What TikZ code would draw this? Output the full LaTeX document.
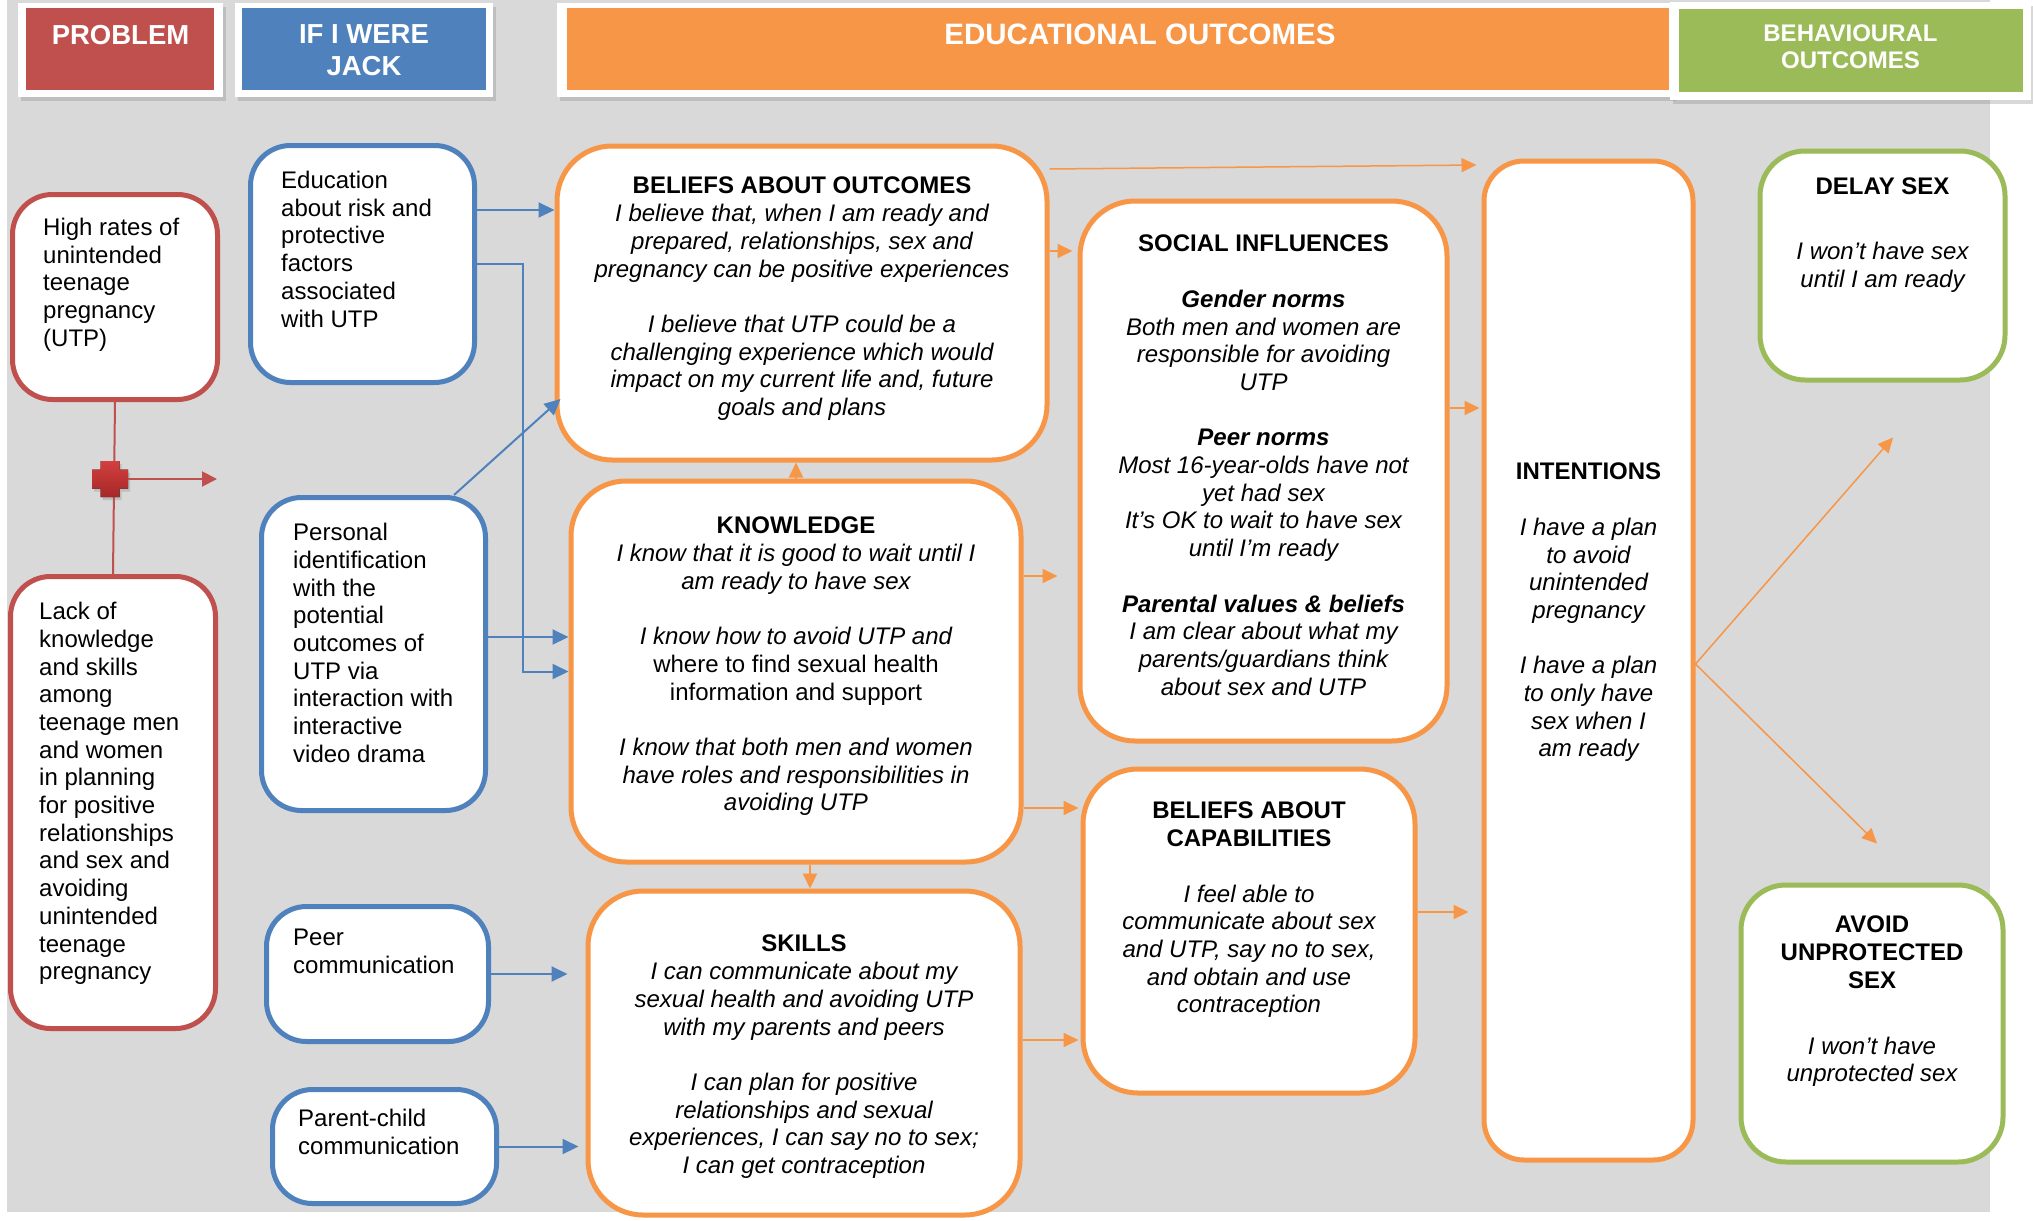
\documentclass[tikz,border=0pt]{standalone}
\usepackage{fontspec}
\setmainfont{Liberation Sans}
\usepackage{xcolor}
\usepackage{tikz}
\usetikzlibrary{arrows.meta, positioning, shadows}

\definecolor{probred}{HTML}{C0504D}
\definecolor{jackblue}{HTML}{4F81BD}
\definecolor{outorange}{HTML}{F79646}
\definecolor{behgreen}{HTML}{9BBB59}
\definecolor{bggray}{HTML}{D9D9D9}
\definecolor{crosstop}{HTML}{D43F3F}
\definecolor{crossbot}{HTML}{A52828}

\newcommand{\bodysize}{\fontsize{24}{27.7}\selectfont}
\newcommand{\headsize}{\fontsize{27.5}{32}\selectfont}
\newcommand{\edusize}{\fontsize{29.5}{32}\selectfont}
\newcommand{\behsize}{\fontsize{24}{27}\selectfont}

\tikzstyle{problem} = [rectangle, rounded corners=40pt, draw=probred, line width=5pt, fill=white]
\tikzstyle{jack} = [rectangle, rounded corners=40pt, draw=jackblue, line width=5pt, fill=white]
\tikzstyle{outcome} = [rectangle, rounded corners=55pt, draw=outorange, line width=5pt, fill=white]
\tikzstyle{behaviour} = [rectangle, rounded corners=45pt, draw=behgreen, line width=5pt, fill=white]
\tikzstyle{headframe} = [rectangle, fill=white, drop shadow={shadow xshift=3pt, shadow yshift=-4pt, opacity=0.3}]
\tikzstyle{header} = [rectangle, inner sep=0pt]
\tikzstyle{headtext} = [inner sep=0pt, align=center, text=white, font=\headsize\bfseries]
\tikzstyle{lefttext} = [inner sep=0pt, align=left, font=\bodysize]
\tikzstyle{midtext} = [inner sep=0pt, align=center, font=\bodysize\itshape]
\tikzstyle{bluearrow} = [draw=jackblue, line width=2pt, -{Triangle[length=16pt,width=15pt]}]
\tikzstyle{orangearrow} = [draw=outorange, line width=2pt, -{Triangle[length=15pt,width=14pt]}]
\tikzstyle{redline} = [draw=probred, line width=2pt]
\tikzstyle{redarrow} = [redline, -{Triangle[length=15pt,width=15pt]}]

\begin{document}
\begin{tikzpicture}[x=1pt, y=-1pt]
\fill[white] (0,0) rectangle (2033,1220);
\useasboundingbox (0,0) rectangle (2033,1220);
\fill[bggray] (6.5,0) rectangle (1990,1212);

\node[headframe, minimum width=205pt, minimum height=94pt] (fprob) at (120.5,50) {};
\node[header, fill=probred, minimum width=188pt, minimum height=82pt] (hprob) at (120,49) {};
\node[headtext, below=22pt of fprob.north] (tprob) {PROBLEM};
\node[headframe, minimum width=258pt, minimum height=94pt] (fjack) at (364,50) {};
\node[header, fill=jackblue, minimum width=244pt, minimum height=82pt] (hjack) at (364,49) {};
\node[headtext, below=22pt of fjack.north] (tjack) {IF I WERE\\JACK};
\node[headframe, minimum width=1116pt, minimum height=94pt] (fedu) at (1115,50) {};
\node[header, fill=outorange, minimum width=1102pt, minimum height=82pt] (hedu) at (1118,49) {};
\node[headtext, font=\edusize\bfseries, below=21pt of fedu.north, xshift=25pt] (tedu) {EDUCATIONAL OUTCOMES};
\node[headframe, minimum width=361pt, minimum height=98pt] (fbeh) at (1850.5,51) {};
\node[header, fill=behgreen, minimum width=344pt, minimum height=83pt] (hbeh) at (1851,50.5) {};
\node[headtext, font=\behsize\bfseries, below=23pt of fbeh.north] (tbeh) {BEHAVIOURAL\\OUTCOMES};

\node[problem, minimum width=205pt, minimum height=205pt] (high) at (115,297) {};
\node[problem, minimum width=205pt, minimum height=452pt] (lack) at (113,802.5) {};
\node[jack, minimum width=224pt, minimum height=237pt] (edu) at (362.5,264) {};
\node[jack, minimum width=224pt, minimum height=313pt] (ident) at (373.5,654) {};
\node[jack, minimum width=222pt, minimum height=135pt] (peer) at (377.5,974) {};
\node[jack, minimum width=224pt, minimum height=114pt] (parent) at (384.5,1146.5) {};
\node[outcome, minimum width=490pt, minimum height=314pt] (belout) at (802,303) {};
\node[outcome, minimum width=450pt, minimum height=381pt] (know) at (796,671.5) {};
\node[outcome, minimum width=432pt, minimum height=324pt] (skills) at (804,1053) {};
\node[outcome, minimum width=367pt, minimum height=540pt] (social) at (1263.5,471) {};
\node[outcome, minimum width=332pt, minimum height=324pt] (belcap) at (1249,931) {};
\node[outcome, rounded corners=40pt, minimum width=209pt, minimum height=999pt] (intent) at (1588.5,660.5) {};
\node[behaviour, minimum width=245pt, minimum height=229pt] (delay) at (1882.5,265.5) {};
\node[behaviour, minimum width=262pt, minimum height=277pt] (avoid) at (1872,1023.5) {};

\node[lefttext, below right=26pt and 33pt of high.north west] (hightext) {High rates of\\unintended\\teenage\\pregnancy\\(UTP)};
\node[lefttext, below right=28pt and 31pt of lack.north west] (lacktext) {Lack of\\knowledge\\and skills\\among\\teenage men\\and women\\in planning\\for positive\\relationships\\and sex and\\avoiding\\unintended\\teenage\\pregnancy};
\node[lefttext, below right=28pt and 33pt of edu.north west] (edutext) {Education\\about risk and\\protective\\factors\\associated\\with UTP};
\node[lefttext, below right=28pt and 34pt of ident.north west] (identtext) {Personal\\identification\\with the\\potential\\outcomes of\\UTP via\\interaction with\\interactive\\video drama};
\node[lefttext, below right=25pt and 29pt of peer.north west] (peertext) {Peer\\communication};
\node[lefttext, below right=22pt and 28pt of parent.north west] (parenttext) {Parent-child\\communication};

\node[midtext, below=33.5pt of belout.north] (belouttext) {{\upshape\bfseries BELIEFS ABOUT OUTCOMES}\\I believe that, when I am ready and\\prepared, relationships, sex and\\pregnancy can be positive experiences\\[27.7pt]I believe that UTP could be a\\challenging experience which would\\impact on my current life and, future\\goals and plans};
\node[midtext, below=38.5pt of know.north] (knowtext) {{\upshape\bfseries KNOWLEDGE}\\I know that it is good to wait until I\\am ready to have sex\\[27.7pt]I know how to avoid UTP and\\{\upshape where to find sexual health}\\{\upshape information and support}\\[27.7pt]I know that both men and women\\have roles and responsibilities in\\avoiding UTP};
\node[midtext, below=46.5pt of skills.north] (skillstext) {{\upshape\bfseries SKILLS}\\I can communicate about my\\sexual health and avoiding UTP\\with my parents and peers\\[27.7pt]I can plan for positive\\relationships and sexual\\experiences, I can say no to sex;\\I can get contraception};
\node[midtext, below=36.5pt of social.north] (socialtext) {{\upshape\bfseries SOCIAL INFLUENCES}\\[27.7pt]{\bfseries Gender norms}\\Both men and women are\\responsible for avoiding\\UTP\\[27.7pt]{\bfseries Peer norms}\\Most 16-year-olds have not\\yet had sex\\It’s OK to wait to have sex\\until I’m ready\\[27.7pt]{\bfseries Parental values \& beliefs}\\I am clear about what my\\parents/guardians think\\about sex and UTP};
\node[midtext, below=35.5pt of belcap.north] (belcaptext) {{\upshape\bfseries BELIEFS ABOUT}\\{\upshape\bfseries CAPABILITIES}\\[27.7pt]I feel able to\\communicate about sex\\and UTP, say no to sex,\\and obtain and use\\contraception};
\node[midtext, below=304.5pt of intent.north] (intenttext) {{\upshape\bfseries INTENTIONS}\\[27.7pt]I have a plan\\to avoid\\unintended\\pregnancy\\[27.7pt]I have a plan\\to only have\\sex when I\\am ready};
\node[midtext, below=29.5pt of delay.north] (delaytext) {{\upshape\bfseries DELAY SEX}\\[37pt]I won’t have sex\\until I am ready};
\node[midtext, below=33.5pt of avoid.north] (avoidtext) {{\upshape\bfseries AVOID}\\{\upshape\bfseries UNPROTECTED}\\{\upshape\bfseries SEX}\\[38pt]I won’t have\\unprotected sex};

\coordinate (plus) at (110,479);
\coordinate (redtip) at (217,479);
\draw[redline] (high.south) -- (lack.north);
\begin{scope}[shift={(plus)}]
\fill[top color=crosstop, bottom color=crossbot, drop shadow={shadow xshift=2pt, shadow yshift=-3pt, opacity=0.3}]
  (-9.5,-18) -- (9.5,-18) -- (9.5,-9.5) -- (18,-9.5) -- (18,9.5) -- (9.5,9.5) -- (9.5,18)
  -- (-9.5,18) -- (-9.5,9.5) -- (-18,9.5) -- (-18,-9.5) -- (-9.5,-9.5) -- cycle;
\end{scope}
\draw[redarrow] ([xshift=18pt]plus) -- (redtip);

\draw[bluearrow] ([yshift=54pt]edu.east) -- ([yshift=93pt]belout.west);
\draw[bluearrow] (edu.east) -| ([xshift=-46pt]know.west) -- (know.west);
\draw[bluearrow] ([xshift=80.5pt]ident.north) -- ([xshift=6pt,yshift=-96pt]belout.west);
\draw[bluearrow] ([yshift=17pt]ident.east) -- ([yshift=34.5pt]know.west);
\draw[bluearrow] (peer.east) -- ([xshift=-18pt,yshift=79pt]skills.west);
\draw[bluearrow] (parent.east) -- ([xshift=-7pt,yshift=-93.5pt]skills.west);

\draw[orangearrow, line width=1.5pt] ([yshift=134pt]belout.east) -- ([xshift=-5pt,yshift=495.5pt]intent.west);
\draw[orangearrow] ([yshift=52pt]belout.east) -- ([xshift=-5pt,yshift=220pt]social.west);
\draw[orangearrow] (know.north) -- ([xshift=-6pt]belout.south);
\draw[orangearrow] ([xshift=14pt]know.south) -- ([xshift=6pt]skills.north);
\draw[orangearrow] ([yshift=95.5pt]know.east) -- ([xshift=-20pt,yshift=-105pt]social.west);
\draw[orangearrow] ([yshift=-136.5pt]know.east) -- ([xshift=-2pt,yshift=123pt]belcap.west);
\draw[orangearrow] ([yshift=13pt]skills.east) -- ([xshift=-2pt,yshift=-109pt]belcap.west);
\draw[orangearrow] ([yshift=63pt]social.east) -- ([xshift=-2pt,yshift=252.5pt]intent.west);
\draw[orangearrow] ([yshift=19pt]belcap.east) -- ([xshift=-13pt,yshift=-251.5pt]intent.west);
\draw[orangearrow, line width=1.5pt] ([yshift=-3.5pt]intent.east) -- ([xshift=10.5pt,yshift=-55pt]delay.south);
\draw[orangearrow, line width=1.5pt] ([yshift=-3.5pt]intent.east) -- ([xshift=5pt,yshift=39pt]avoid.north);
\end{tikzpicture}
\end{document}
